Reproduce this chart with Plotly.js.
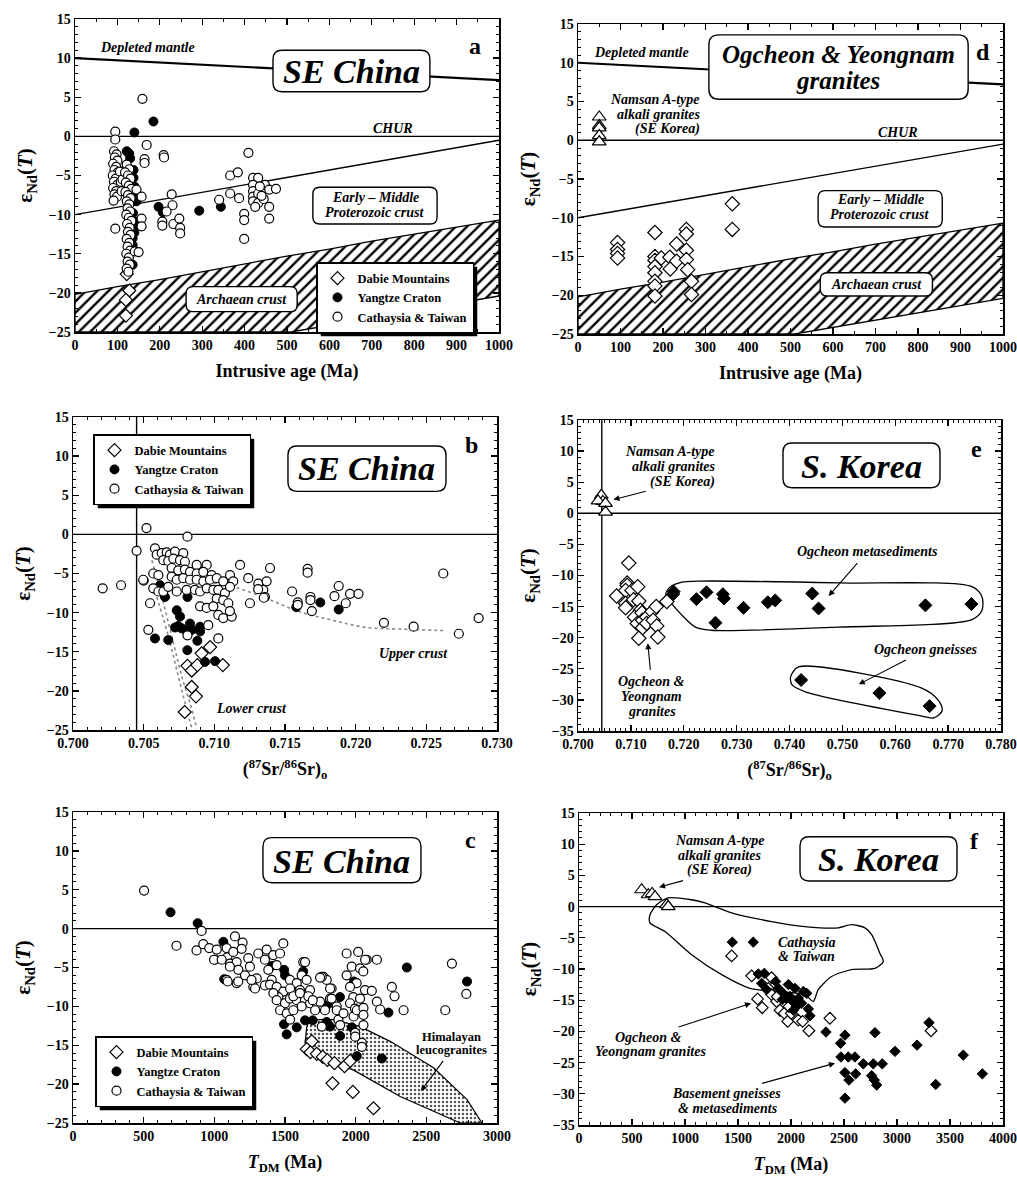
<!DOCTYPE html>
<html><head><meta charset="utf-8">
<script src="https://cdn.plot.ly/plotly-3.0.1.min.js"></script>
<style>html,body{margin:0;padding:0;background:#fff}#chart{width:1017px;height:1181px}</style>
</head><body><div id="chart"></div>
<script>
// ---------------- DATA ----------------
// Panel a: eNd(T) vs intrusive age (Ma), SE China
const aDabie = [[122,-17.6],[128,-19.7],[120,-20.9],[120,-22.9]];
const aYangtze = [[185,1.9],[140,0.5],[122,-1.9],[128,-2.2],[130,-2.8],[138,-4.3],[138,-5.3],[140,-6.4],[139,-7.3],[142,-8.0],[145,-8.3],[137,-9.8],[139,-10.8],[138,-11.5],[140,-12.3],[136,-13.0],[136,-13.9],[136,-16.4],[197,-9.0],[207,-9.7],[293,-9.5],[344,-9.0]];
const aCathaysia = [[95,0.6],[95,-0.4],[92,-1.9],[98,-2.3],[94,-2.7],[100,-3.1],[90,-3.5],[97,-3.9],[93,-4.3],[101,-4.6],[89,-5.0],[96,-5.4],[92,-5.8],[100,-6.2],[90,-6.6],[97,-7.0],[93,-7.4],[99,-7.7],[91,-8.2],[95,-11.8],
[106,-4.5],[108,-5.8],[110,-7.0],[112,-5.5],
[122,-3.6],[128,-4.2],[118,-4.6],[125,-5.0],[131,-5.4],[120,-5.9],[127,-6.3],[133,-6.7],[119,-7.1],[125,-7.5],[131,-7.9],[122,-8.3],[128,-8.7],[124,-9.2],[130,-9.6],[121,-10.0],[127,-10.4],[133,-10.8],[123,-11.2],[129,-11.7],[125,-12.2],[131,-12.6],[122,-13.1],[128,-13.6],[124,-14.1],[130,-14.6],[121,-15.0],[127,-15.5],[124,-16.0],[129,-16.4],[122,-16.9],[126,-17.3],
[141,-14.7],[145,-6.8],[150,-14.8],[157,-7.7],[157,-10.5],[157,-11.5],[159,4.8],[169,-1.1],[164,-2.9],[164,-3.4],[209,-2.4],[210,-2.7],[228,-7.4],[230,-8.8],[216,-9.6],[206,-10.9],[206,-11.4],[232,-11.2],[246,-10.5],[248,-11.7],[248,-12.4],
[409,-2.1],[366,-5.0],[384,-4.6],[366,-7.3],[387,-7.9],[340,-8.1],[399,-9.9],[399,-10.7],[399,-13.1],[420,-5.3],[432,-5.3],[420,-6.2],[420,-7.0],[420,-7.7],[420,-8.3],[432,-7.3],[432,-8.5],[448,-6.2],[445,-8.0],[458,-6.8],[458,-9.0],[458,-10.5],[474,-6.7],[425,-9.0],[436,-6.4],[440,-7.6]];

// Reference curves (panels a and d)
const ageX = [0,1000];
const depletedMantleY = [10,7.2];
const churY = [0,0];
const proterozoicY = [-10,-0.5];
const archUpperX = [0,100,200,300,400,500,600,700,800,900,1000];
const archUpperY = [-20.2,-19.2,-18.3,-17.3,-16.3,-15.3,-14.4,-13.4,-12.5,-11.6,-10.7];
const archLowerX = [1000,510,0];
const archLowerY = [-20.4,-25,-25];

// Panel d: Ogcheon & Yeongnam granites
const dNamsan = [[50,3.0],[50,1.9],[50,1.6],[50,0.6],[50,-0.2]];
const dGranites = [[93,-13.2],[93,-14.1],[93,-14.6],[93,-15.2],[181,-11.9],[181,-15.0],[181,-15.5],[181,-16.3],[181,-17.1],[181,-18.2],[181,-18.8],[181,-20.1],[196,-15.2],[216,-15.1],[217,-16.6],[232,-13.4],[232,-15.6],[255,-11.5],[255,-12.1],[255,-14.2],[255,-15.4],[258,-16.7],[267,-18.2],[267,-19.9],[363,-8.2],[363,-11.5]];

// Panel b: eNd(T) vs (87Sr/86Sr)o, SE China
const bDabie = [[0.7079,-22.7],[0.7084,-19.5],[0.7087,-20.7],[0.7081,-16.8],[0.7084,-17.4],[0.7088,-16.7],[0.7091,-15.2],[0.7097,-14.4],[0.7106,-16.7]];
const bYangtze = [[0.70616,-6.5],[0.70651,-8.0],[0.70734,-9.7],[0.70757,-10.5],[0.70722,-11.9],[0.70745,-11.7],[0.70769,-12.0],[0.70828,-11.4],[0.70840,-12.2],[0.70899,-11.8],[0.70899,-12.4],[0.70804,-12.4],[0.70580,-13.3],[0.70674,-13.5],[0.70809,-14.8],[0.70880,-13.6],[0.70934,-16.3],[0.71005,-16.2],[0.7081,-8.0],[0.7091,-4.8],[0.7158,-9.3],[0.7175,-8.7],[0.7188,-9.6]];
const bCathaysia = [[0.7021,-6.9],[0.7034,-6.5],[0.7045,-2.1],[0.7052,0.8],[0.7081,-0.3],[0.7050,-5.9],
[0.70580,-1.8],[0.70592,-2.6],[0.70628,-2.4],[0.70663,-2.3],[0.70686,-2.6],[0.70722,-2.2],[0.70780,-2.4],[0.70639,-3.3],[0.70674,-3.4],[0.70710,-3.1],[0.70757,-3.3],[0.70792,-3.5],[0.70875,-3.9],[0.70946,-3.9],
[0.70698,-4.3],[0.70745,-4.6],[0.70792,-4.5],[0.70828,-4.8],[0.70875,-5.0],[0.70922,-4.8],[0.70981,-5.2],[0.70568,-5.0],[0.70604,-5.2],[0.70698,-5.4],[0.70734,-5.8],[0.70780,-5.6],[0.70828,-5.8],[0.70875,-5.8],[0.70922,-6.0],[0.70969,-5.8],[0.71017,-5.6],[0.71063,-6.0],[0.71111,-5.2],[0.71134,-6.0],
[0.70568,-6.9],[0.70604,-7.3],[0.70639,-7.3],[0.70674,-6.7],[0.70734,-7.3],[0.70804,-7.1],[0.70863,-7.1],[0.70899,-7.3],[0.70946,-6.9],[0.70993,-7.1],[0.71028,-7.1],[0.71075,-7.5],[0.71111,-6.7],[0.71017,-8.2],[0.71063,-8.4],[0.71099,-8.8],[0.70899,-9.2],[0.70946,-9.4],[0.70993,-9.2],[0.71028,-10.3],[0.71063,-10.7],[0.71123,-10.5],
[0.70497,-5.8],[0.70545,-8.8],[0.70533,-12.2],[0.70957,-11.6],[0.71028,-13.3],[0.7081,-12.9],[0.7111,-9.8],
[0.71182,-3.9],[0.71240,-5.6],[0.71311,-6.3],[0.71370,-6.0],[0.71346,-7.1],[0.71358,-8.0],[0.71394,-4.3],[0.71252,-8.8],[0.7131,-7.0],[0.7135,-8.1],
[0.7155,-7.3],[0.7159,-8.7],[0.7159,-9.0],[0.7166,-4.4],[0.7166,-4.9],[0.7168,-8.0],[0.7168,-8.4],[0.7169,-9.8],[0.7185,-7.9],[0.7188,-6.6],[0.7193,-8.8],[0.7196,-7.6],[0.7202,-7.6],[0.7220,-11.3],[0.7241,-11.8],[0.7262,-5.0],[0.7273,-12.7],[0.7287,-10.7]];
// dotted mixing curves
const bUpperCurve = [[0.7095,-6.1],[0.71135,-6.7],[0.71370,-8.2],[0.71606,-9.9],[0.71841,-11.0],[0.72077,-11.9],[0.72312,-12.1],[0.72642,-12.3]];
const bLowerCurve1 = [[0.70558,-3.3],[0.70640,-8.8],[0.70711,-13.9],[0.70770,-18.2],[0.70829,-21.6],[0.70876,-24.8]];
const bLowerCurve2 = [[0.70593,-8.0],[0.70676,-13.1],[0.70746,-18.2],[0.70805,-22.4],[0.70841,-24.8]];

// Panel e: S. Korea, eNd(T) vs (87Sr/86Sr)o
const eNamsan = [[0.7044,2.9],[0.7047,1.9],[0.7038,2.0],[0.7052,1.6],[0.7052,0.2]];
const eGranites = [[0.7096,-8.0],[0.7093,-11.2],[0.7093,-11.6],[0.7090,-12.4],[0.7073,-13.3],[0.7102,-12.4],[0.7113,-11.8],[0.7090,-14.5],[0.7090,-15.2],[0.7105,-13.9],[0.7115,-14.1],[0.7118,-15.6],[0.7107,-16.7],[0.7112,-17.7],[0.7121,-16.0],[0.7122,-17.2],[0.7122,-18.4],[0.7115,-20.1],[0.7130,-16.7],[0.7130,-17.7],[0.7140,-15.8],[0.7142,-17.2],[0.7148,-15.0],[0.7149,-18.1],[0.7151,-19.9],[0.7168,-14.2]];
const eMetased = [[0.7180,-13.0],[0.7181,-12.6],[0.7224,-13.8],[0.7243,-12.7],[0.7274,-13.0],[0.7276,-13.7],[0.7260,-17.6],[0.7313,-15.2],[0.7359,-14.3],[0.7373,-14.0],[0.7443,-12.9],[0.7455,-15.3],[0.7657,-14.8],[0.7744,-14.6]];
const eGneiss = [[0.7422,-26.8],[0.7570,-28.9],[0.7665,-31.0]];
const eMetasedField = [[0.7166,-13.0],[0.7175,-11.8],[0.7195,-11.1],[0.7230,-10.9],[0.7493,-11.2],[0.7745,-11.8],[0.7764,-13.4],[0.7764,-15.6],[0.7745,-17.1],[0.7493,-18.3],[0.7253,-18.8],[0.7222,-18.3],[0.7178,-14.6],[0.7166,-13.0]];
const eGneissField = [[0.7402,-26.3],[0.7417,-24.7],[0.7650,-28.1],[0.7682,-30.1],[0.7689,-31.7],[0.7673,-32.9],[0.7644,-32.5],[0.7430,-28.7],[0.7405,-27.6],[0.7402,-26.3]];
const srLineX = [0.7045,0.7045];

// Panel c: SE China, eNd(T) vs T_DM (Ma)
const cDabie = [[1689,-14.5],[1654,-15.5],[1680,-15.9],[1725,-16.1],[1767,-16.5],[1800,-16.9],[1850,-17.3],[1921,-17.7],[1961,-17.0],[1836,-19.9],[1980,-21.0],[2126,-23.1]];
const cYangtze = [[690,2.1],[882,0.7],[1064,-1.7],[1070,-6.5],[1406,-4.8],[1494,-5.3],[1500,-6.0],[1629,-5.5],[1493,-12.3],[1512,-13.6],[1583,-12.7],[1642,-11.8],[1696,-11.8],[1795,-12.0],[1819,-12.6],[1800,-9.8],[1889,-8.8],[1890,-13.8],[1988,-6.8],[1973,-12.7],[2008,-16.4],[2185,-16.7],[2232,-10.8],[2362,-5.0],[2788,-6.8]];
const cCathaysia = [[503,4.9],[732,-2.2],[910,-0.3],[874,-2.8],[922,-2.0],[964,-2.5],[1017,-2.7],[1004,-4.0],[1087,-2.5],[1146,-1.0],[1200,-1.8],[1193,-2.6],[1092,-3.7],[998,-4.0],[1052,-4.0],[1134,-3.0],[1111,-4.5],[1158,-4.3],[1170,-5.3],[1087,-6.6],[1158,-7.0],[1094,-6.8],[1110,-4.9],[1169,-6.8],[1240,-3.8],[1252,-4.9],[1217,-6.0],[1300,-6.4],[1276,-7.5],[1288,-7.7],[1263,-6.6],[1311,-3.2],[1370,-2.7],[1358,-4.0],[1417,-3.4],[1465,-3.2],[1488,-1.9],[1441,-4.7],[1382,-5.3],[1406,-6.6],[1358,-7.3],[1394,-7.2],[1441,-7.5],[1488,-8.1],[1453,-8.8],[1418,-8.3],[1441,-9.2],[1500,-9.6],[1535,-6.6],[1583,-7.0],[1629,-4.3],[1618,-6.0],[1653,-6.6],[1606,-7.9],[1677,-7.9],[1535,-9.0],[1583,-9.2],[1641,-9.2],[1677,-9.6],[1724,-9.6],[1771,-6.2],[1795,-6.6],[1830,-7.7],[1818,-9.0],[1866,-10.0],[1936,-3.2],[2018,-3.0],[1972,-4.9],[1936,-6.0],[2031,-5.1],[2078,-4.0],[2054,-5.5],[2007,-7.0],[1960,-7.5],[2066,-7.9],[1983,-8.8],[2031,-9.0],[1960,-9.6],[1995,-10.3],
[1465,-10.5],[1512,-10.9],[1536,-11.7],[1559,-10.5],[1618,-10.0],[1713,-10.5],[1748,-9.4],[1760,-12.6],[1783,-10.5],[1866,-10.5],[1878,-11.7],[1914,-10.9],[1890,-12.4],[1985,-11.3],[2008,-10.5],[1997,-13.4],[1997,-13.9],[2055,-12.4],[2044,-14.7],[2044,-15.2],[2055,-10.2],[2055,-11.1],[2114,-8.0],[2150,-9.4],[2173,-10.4],[2150,-4.0],[2067,-4.0],[2256,-7.5],[2275,-8.7],[2339,-10.5],[2634,-10.5],[2681,-4.5],[2783,-8.4],[1536,-7.7],[1559,-8.7],[1606,-8.3],[1665,-8.7],[1696,-9.2],[1819,-7.7],[1830,-9.0],[1760,-6.2],[1748,-6.3],[1642,-4.3]];
const cHimalayaField = [[1677,-11.7],[1843,-11.7],[2032,-12.6],[2244,-14.5],[2551,-17.9],[2788,-22.0],[2894,-25],[2740,-25],[2315,-21.6],[1985,-18.2],[1748,-16.4],[1642,-14.7],[1654,-12.6],[1677,-11.7]];
const tdmX = [0,4000];

// Panel f: S. Korea, eNd(T) vs T_DM (Ma)
const fNamsan = [[591,2.7],[654,1.9],[690,2.1],[717,1.6],[827,0.3],[842,0.0]];
const fGranites = [[1440,-7.9],[1629,-11.1],[1817,-11.4],[1786,-13.1],[1685,-14.8],[1729,-16.2],[1817,-14.1],[1864,-15.2],[1896,-16.6],[1937,-17.1],[1969,-18.4],[2069,-18.2],[2110,-18.4],[2003,-17.1],[1981,-16.0],[1871,-14.4],[2169,-19.9],[2367,-17.9],[3321,-19.9]];
const fBasement = [[1446,-5.7],[1644,-5.7],[1692,-10.8],[1748,-10.7],[1723,-12.3],[1770,-13.3],[1855,-12.0],[1880,-13.1],[1927,-13.9],[1975,-12.5],[1990,-14.4],[2037,-13.1],[2015,-15.2],[2069,-14.7],[2116,-13.6],[2148,-13.9],[2100,-15.5],[2022,-16.6],[2164,-16.4],[2179,-17.5],[1959,-14.7],[1918,-14.9],[2053,-16.0],[2330,-20.1],[2468,-21.9],[2509,-20.6],[2471,-24.1],[2540,-24.1],[2603,-24.1],[2509,-26.6],[2547,-27.8],[2610,-26.8],[2509,-30.7],[2682,-25.2],[2776,-25.2],[2861,-25.2],[2761,-27.1],[2786,-27.8],[2808,-28.6],[2792,-20.2],[2981,-23.2],[3189,-22.2],[3302,-18.6],[3365,-28.5],[3625,-23.8],[3805,-26.8]];
const fCathaysiaField = [[670,-1.3],[732,0.3],[842,1.4],[1062,1.1],[1188,0.6],[1440,-1.0],[1817,-2.4],[2131,-3.2],[2446,-3.4],[2572,-2.9],[2698,-3.4],[2761,-4.5],[2839,-7.5],[2871,-8.8],[2792,-9.9],[2572,-10.1],[2383,-11.2],[2257,-13.3],[2210,-15.2],[2131,-14.1],[1880,-13.6],[1613,-13.1],[1346,-10.9],[1062,-7.7],[811,-4.0],[670,-2.6],[670,-1.3]];

const legendNames = ['Dabie Mountains','Yangtze Craton','Cathaysia & Taiwan'];

// ---------------- LAYOUT HELPERS ----------------
const SERIF = '"Liberation Serif","Times New Roman",Times,serif';
const W = 1017, H = 1181;
function P(xr,yr,x0,x1,px0,px1,y0,y1,py0,py1){
  return {xr,yr,xdom:[px0/W,px1/W],ydom:[1-py1/H,1-py0/H],range:[x0,x1],yrange:[y0,y1],
          sx:(x1-x0)/(px1-px0), sy:(y1-y0)/(py1-py0)};
}
const pa = P('x','y',0,1000,75,499,-25,15,19,332);
const pd = P('x2','y2',0,1000,578,1003,-25,15,24,334);
const pb = P('x3','y3',0.700,0.730,73,497,-25,15,417,730);
const pe = P('x4','y4',0.700,0.780,578,1001,-35,15,420,731);
const pc = P('x5','y5',0,3000,73,497,-25,15,812,1123);
const pf = P('x6','y6',0,4000,579,1003,-35,15,813,1125);

const X = a => a.map(d=>d[0]), Y = a => a.map(d=>d[1]);
function font(size, italic, weight){ return {family:SERIF,size:size,color:'black',weight:weight||'bold',style:italic?'italic':'normal'}; }

function pts(p, arr, sym, size, fill, lw, name, leg){
  const t = {type:'scatter',mode:'markers',x:X(arr),y:Y(arr),xaxis:p.xr,yaxis:p.yr,name:name||'',
    showlegend:!!leg,hoverinfo:'skip',marker:{symbol:sym,size:size,color:fill,line:{color:'black',width:lw}}};
  if(leg) t.legend = leg;
  return t;
}
function ln(p, xs, ys, line, extra){
  return Object.assign({type:'scatter',mode:'lines',x:xs,y:ys,xaxis:p.xr,yaxis:p.yr,showlegend:false,hoverinfo:'skip',line:line}, extra||{});
}
const solid = {color:'black',width:1.4};

function txt(p, x, y, text, size, italic, extra){
  return Object.assign({xref:p.xr,yref:p.yr,x:x,y:y,text:text,showarrow:false,font:font(size,italic)}, extra||{});
}
function lines(p, x, y0, arr, gap, size, italic, extra){
  return arr.map((s,i)=>txt(p, x, y0 - i*gap*p.sy, s, size, italic, extra));
}
// text label at (tx,ty) with an arrow pointing to (hx,hy)
function arrowTxt(p, tx, ty, text, size, italic, hx, hy){
  return {xref:p.xr,yref:p.yr,axref:p.xr,ayref:p.yr,x:hx,y:hy,ax:tx,ay:ty,text:text,font:font(size,italic),
          showarrow:true,arrowhead:2,arrowsize:1.1,arrowwidth:1.1,arrowcolor:'black',standoff:0,startstandoff:3};
}
function rrect(p, x0, x1, y0, y1, r){
  const rx = r*p.sx, ry = r*p.sy;
  const path = `M${x0+rx},${y0} L${x1-rx},${y0} Q${x1},${y0} ${x1},${y0+ry} L${x1},${y1-ry} Q${x1},${y1} ${x1-rx},${y1} `+
               `L${x0+rx},${y1} Q${x0},${y1} ${x0},${y1-ry} L${x0},${y0+ry} Q${x0},${y0} ${x0+rx},${y0} Z`;
  return {type:'path',path:path,xref:p.xr,yref:p.yr,line:{color:'black',width:1.4},fillcolor:'white',layer:'above'};
}
function axes(p, dtick, minor, fmt, title){
  const base = {showgrid:false,zeroline:false,showline:true,linecolor:'black',linewidth:1.5,mirror:'ticks',
    ticks:'inside',ticklen:6,tickwidth:1.3,tickcolor:'black',tickfont:font(14,false)};
  const xa = Object.assign({}, base, {domain:p.xdom,range:p.range,dtick:dtick,tick0:p.range[0],anchor:p.yr,
    minor:{dtick:minor,ticks:'inside',ticklen:3,tickwidth:1,tickcolor:'black'},
    title:{text:title,font:font(18,false),standoff:12}});
  if(fmt) xa.tickformat = fmt;
  const ya = Object.assign({}, base, {domain:p.ydom,range:p.yrange,dtick:5,tick0:0,anchor:p.xr,
    minor:{dtick:1,ticks:'inside',ticklen:3,tickwidth:1,tickcolor:'black'},
    title:{text:'ε<sub>Nd</sub>(<i>T</i>)',font:font(21,false),standoff:10}});
  return [xa, ya];
}

// ---------------- TRACES ----------------
const data = [];
const hatch = {shape:'/',size:8,solidity:0.3,fgcolor:'black',bgcolor:'white'};
[pa, pd].forEach(p=>{
  data.push(ln(p, archUpperX.concat(archLowerX, [archUpperX[0]]), archUpperY.concat(archLowerY, [archUpperY[0]]),
     {color:'black',width:1.3}, {fill:'toself',fillcolor:'white',fillpattern:hatch}));
  data.push(ln(p, ageX, depletedMantleY, {color:'black',width:2.2}));
  data.push(ln(p, ageX, churY, solid));
  data.push(ln(p, ageX, proterozoicY, solid));
});
// panel a points
data.push(pts(pa, aDabie, 'diamond', 10, 'white', 1.2, legendNames[0], 'legend'));
data.push(pts(pa, aYangtze, 'circle', 9, 'black', 1, legendNames[1], 'legend'));
data.push(pts(pa, aCathaysia, 'circle', 9, 'white', 1.2, legendNames[2], 'legend'));
// panel d points
data.push(pts(pd, dNamsan, 'triangle-up', 12, 'white', 1.2));
data.push(pts(pd, dGranites, 'diamond', 11, 'white', 1.2));

// panel b
data.push(ln(pb, [0.700,0.730], churY, solid));
data.push(ln(pb, srLineX, [-25,15], solid));
[bUpperCurve, bLowerCurve1, bLowerCurve2].forEach(c=>data.push(ln(pb, X(c), Y(c), {color:'#8a8a8a',width:1.6,dash:'dot',shape:'spline'})));
data.push(pts(pb, bDabie, 'diamond', 10, 'white', 1.2, legendNames[0], 'legend2'));
data.push(pts(pb, bYangtze, 'circle', 9, 'black', 1, legendNames[1], 'legend2'));
data.push(pts(pb, bCathaysia, 'circle', 9, 'white', 1.2, legendNames[2], 'legend2'));

// panel e
data.push(ln(pe, [0.700,0.780], churY, solid));
data.push(ln(pe, srLineX, [-35,15], solid));
data.push(ln(pe, X(eMetasedField), Y(eMetasedField), {color:'black',width:1.3,shape:'spline',smoothing:0.8}));
data.push(ln(pe, X(eGneissField), Y(eGneissField), {color:'black',width:1.3,shape:'spline',smoothing:0.8}));
data.push(pts(pe, eNamsan, 'triangle-up', 12, 'white', 1.2));
data.push(pts(pe, eGranites, 'diamond', 11, 'white', 1.2));
data.push(pts(pe, eMetased, 'diamond', 10, 'black', 1));
data.push(pts(pe, eGneiss, 'diamond', 10, 'black', 1));

// panel c
data.push(ln(pc, [0,3000], churY, solid));
data.push(ln(pc, X(cHimalayaField), Y(cHimalayaField), {color:'black',width:1.2},
  {fill:'toself',fillcolor:'white',fillpattern:{shape:'.',size:4,solidity:0.3,fgcolor:'#555',bgcolor:'white'}}));
data.push(pts(pc, cDabie, 'diamond', 10, 'white', 1.2, legendNames[0], 'legend3'));
data.push(pts(pc, cYangtze, 'circle', 9, 'black', 1, legendNames[1], 'legend3'));
data.push(pts(pc, cCathaysia, 'circle', 9, 'white', 1.2, legendNames[2], 'legend3'));

// panel f
data.push(ln(pf, tdmX, churY, solid));
data.push(ln(pf, X(fCathaysiaField), Y(fCathaysiaField), {color:'black',width:1.3,shape:'spline',smoothing:0.7}));
data.push(pts(pf, fNamsan, 'triangle-up', 12, 'white', 1.2));
data.push(pts(pf, fGranites, 'diamond', 9, 'white', 1.2));
data.push(pts(pf, fBasement, 'diamond', 8, 'black', 1));

// ---------------- ANNOTATIONS & SHAPES ----------------
const ann = [], shapes = [];
// a
ann.push(txt(pa,171,11.3,'Depleted mantle',14,true), txt(pa,751,1.0,'CHUR',14,true), txt(pa,943,11.5,'a',24,false));
shapes.push(rrect(pa,467,837,5.7,11.0,9)); ann.push(txt(pa,652,8.3,'SE China',34,true));
shapes.push(rrect(pa,561,854,-11.2,-6.5,7)); ann.push(...lines(pa,708,-7.8,['Early – Middle','Proterozoic crust'],15,14,true));
shapes.push(rrect(pa,262,524,-22.4,-19.2,7)); ann.push(txt(pa,393,-20.8,'Archaean crust',14,true));
// d
ann.push(txt(pd,149,11.3,'Depleted mantle',14,true), txt(pd,753,1.0,'CHUR',14,true), txt(pd,953,11.4,'d',24,false));
shapes.push(rrect(pd,308,918,5.3,13.6,10)); ann.push(...lines(pd,612,11.0,['Ogcheon & Yeongnam','granites'],26,25,true));
ann.push(...lines(pd,291,5.3,['Namsan A-type','alkali granites','(SE Korea)'],15,14,true,{xanchor:'right'}));
shapes.push(rrect(pd,565,857,-11.2,-6.5,7)); ann.push(...lines(pd,711,-7.7,['Early – Middle','Proterozoic crust'],15,14,true));
shapes.push(rrect(pd,570,834,-20.1,-17.1,7)); ann.push(txt(pd,702,-18.6,'Archaean crust',14,true));
// b
ann.push(txt(pb,0.72818,11.4,'b',24,false));
shapes.push(rrect(pb,0.71521,0.72639,5.5,11.3,9)); ann.push(txt(pb,0.7208,8.4,'SE China',34,true));
ann.push(txt(pb,0.72406,-15.2,'Upper crust',14,true), txt(pb,0.71265,-22.2,'Lower crust',14,true));
// e
ann.push(txt(pe,0.77528,10.4,'e',24,false));
shapes.push(rrect(pe,0.73877,0.76846,4.1,11.3,9)); ann.push(txt(pe,0.7536,7.6,'S. Korea',34,true));
ann.push(...lines(pe,0.7263,9.9,['Namsan A-type','alkali granites'],15,14,true,{xanchor:'right'}));
ann.push(arrowTxt(pe,0.7198,5.1,'(SE Korea)',14,true,0.7067,2.2));
ann.push(arrowTxt(pe,0.7547,-6.2,'Ogcheon metasediments',14,true,0.7474,-13.3));
ann.push(arrowTxt(pe,0.7658,-21.9,'Ogcheon gneisses',14,true,0.7531,-27.5));
ann.push(arrowTxt(pe,0.7139,-27.1,'Ogcheon &',14,true,0.7132,-20.9));
ann.push(...lines(pe,0.7139,-29.4,['Yeongnam','granites'],15,14,true));
// c
ann.push(txt(pc,2811,11.4,'c',24,false));
shapes.push(rrect(pc,1344,2462,5.9,11.7,9)); ann.push(txt(pc,1903,8.6,'SE China',34,true));
ann.push(txt(pc,2681,-14.0,'Himalayan',12.5,false), arrowTxt(pc,2676,-15.6,'leucogranites',12.5,false,2462,-20.9));
// f
ann.push(txt(pf,3733,10.5,'f',24,false));
shapes.push(rrect(pf,2085,3566,4.1,11.2,9)); ann.push(txt(pf,2825,7.6,'S. Korea',34,true));
ann.push(...lines(pf,1330,10.6,['Namsan A-type','alkali granites'],15,14,true), arrowTxt(pf,1330,5.8,'(SE Korea)',14,true,755,3.1));
ann.push(...lines(pf,2148,-5.7,['Cathaysia','& Taiwan'],14,14,true));
ann.push(arrowTxt(pf,654,-20.9,'Ogcheon &',14,true,1623,-15.5), txt(pf,670,-23.3,'Yeongnam granites',14,true));
ann.push(arrowTxt(pf,1393,-29.9,'Basement gneisses',14,true,2415,-25.1), txt(pf,1403,-32.3,'& metasediments',14,true));

// ---------------- LAYOUT ----------------
const layout = {width:W,height:H,margin:{l:0,r:0,t:0,b:0},paper_bgcolor:'white',plot_bgcolor:'white',
  font:{family:SERIF,color:'black'},annotations:ann,shapes:shapes};
function legendAt(px,py){
  return {x:px/W,y:1-py/H,xanchor:'left',yanchor:'top',bgcolor:'white',bordercolor:'black',borderwidth:1.5,
    font:font(12.5,false),itemwidth:30,tracegroupgap:0,traceorder:'normal'};
}
layout.legend = legendAt(316,262);
layout.legend2 = legendAt(93,434);
layout.legend3 = legendAt(95,1036);
const sr = '(<sup>87</sup>Sr/<sup>86</sup>Sr)<sub>o</sub>', tdm = '<i>T</i><sub>DM</sub> (Ma)';
[[pa,100,50,null,'Intrusive age (Ma)'],[pd,100,50,null,'Intrusive age (Ma)'],[pb,0.005,0.001,'.3f',sr],
 [pe,0.010,0.001,'.3f',sr],[pc,500,100,null,tdm],[pf,500,100,null,tdm]].forEach(([p,dt,mn,fmt,t])=>{
  const [xa,ya] = axes(p,dt,mn,fmt,t);
  layout['xaxis'+p.xr.slice(1)] = xa;
  layout['yaxis'+p.yr.slice(1)] = ya;
});

const gd = document.getElementById('chart');
Plotly.newPlot(gd, data, layout, {staticPlot:true,displayModeBar:false}).then(()=>{
  const gb = gd.getBoundingClientRect();
  const legendBgs = [...gd.querySelectorAll('.infolayer rect.bg')].filter(r=>{
    const g = r.parentNode; const c = (g && g.getAttribute('class')) || '';
    return /^legend/.test(c);
  });
  const sh = legendBgs.map(r=>{
    const b = r.getBoundingClientRect();
    return {type:'rect',xref:'paper',yref:'paper',x0:(b.left-gb.left+4)/W,x1:(b.right-gb.left+4)/W,
      y0:1-(b.bottom-gb.top+4)/H,y1:1-(b.top-gb.top+4)/H,fillcolor:'black',line:{width:0},layer:'above'};
  });
  if(sh.length) return Plotly.relayout(gd,{shapes:shapes.concat(sh)});
});
</script></body></html>
